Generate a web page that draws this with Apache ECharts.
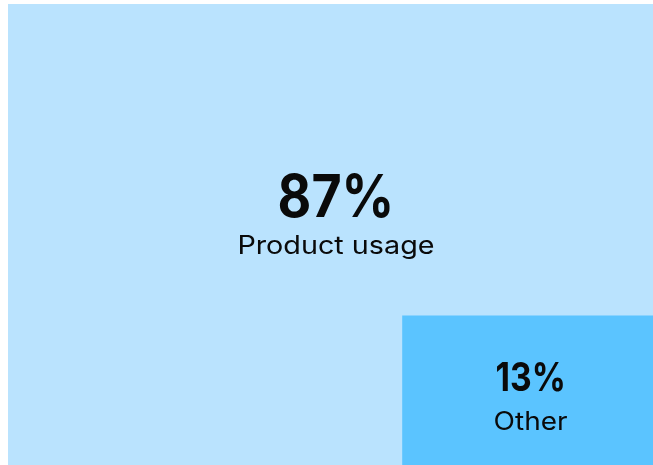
<!DOCTYPE html>
<html><head><meta charset="utf-8">
<script src="https://cdn.jsdelivr.net/npm/echarts@6/dist/echarts.min.js"></script>
<style>html,body{margin:0;padding:0;background:#fff}#c{width:653px;height:465px}</style>
</head><body><div id="c"></div>
<script>
const categories = ['Product usage', 'Other'];
const shares = [87.4, 12.6];
const shareLabels = ['87%', '13%'];

const colors = ['#BAE3FE', '#5BC4FF'];
const BOX_ASPECT = 1.2; // width/height ratio (as fraction of plot) of the inset box

const chart = echarts.init(document.getElementById('c'), null, {renderer: 'canvas'});

function renderItem(params, api) {
  const i = params.dataIndex;
  const tl = api.coord([0, 1]);
  const size = api.size([1, 1]);
  const W = size[0], H = size[1];
  let x, y, w, h, tx, ty, bigSize, smallSize, gap, bigScale, smallScale;
  if (i === 0) {
    x = tl[0]; y = tl[1]; w = W; h = H;
    tx = x + w * 0.5085; ty = y + h * 0.424;
    bigSize = 59; smallSize = 25; gap = 47; bigScale = 0.88; smallScale = 1.15;
  } else {
    const f = shares[i] / 100;
    const wf = Math.sqrt(f * BOX_ASPECT), hf = f / wf;
    w = W * wf; h = H * hf; x = tl[0] + W - w; y = tl[1] + H - h;
    tx = x + w * 0.512; ty = y + h * 0.426;
    bigSize = 40; smallSize = 25; gap = 43; bigScale = 0.84; smallScale = 1.12;
  }
  return {
    type: 'group',
    children: [
      {type: 'rect', shape: {x: x, y: y, width: w, height: h}, style: {fill: colors[i]}},
      {type: 'text', x: tx, y: ty, scaleX: bigScale, style: {text: shareLabels[i], fill: '#0a0a0a', font: '700 ' + bigSize + 'px Inter', align: 'center', verticalAlign: 'middle'}},
      {type: 'text', x: tx, y: ty + gap, scaleX: smallScale, style: {text: categories[i], fill: '#0a0a0a', font: '400 ' + smallSize + 'px Inter', align: 'center', verticalAlign: 'middle'}}
    ]
  };
}

chart.setOption({
  animation: false,
  grid: {left: 8, top: 4, right: 0, bottom: 0},
  xAxis: {type: 'value', min: 0, max: 1, show: false},
  yAxis: {type: 'value', min: 0, max: 1, show: false},
  series: [{
    type: 'custom',
    renderItem: renderItem,
    data: categories.map((c, i) => ({name: c, value: [i, shares[i]]}))
  }]
});
</script></body></html>
